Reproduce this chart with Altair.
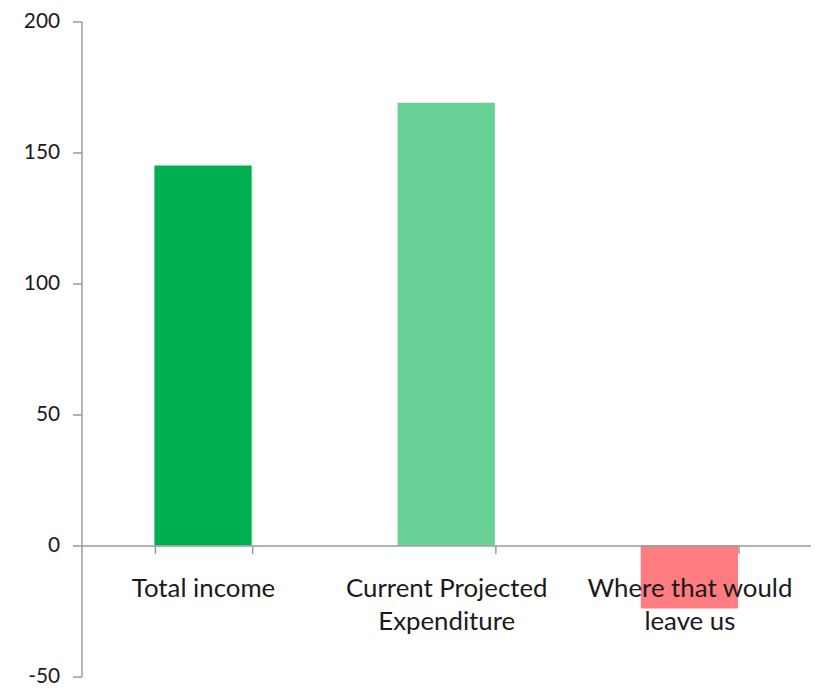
import altair as alt
import pandas as pd

categories = ["Total income", "Current Projected\nExpenditure", "Where that would\nleave us"]
values = [145, 169, -24]
colors = ["#00B050", "#66D095", "#FF7C80"]
y_ticks = [-50, 0, 50, 100, 150, 200]

df = pd.DataFrame({"category": categories, "value": values})

W, H = 735, 660
ymin, ymax = -50, 200
zero_offset = -H * (0 - ymin) / (ymax - ymin)

FONT = "Lato"
TXT = "#1a1a1a"
AX = "#9a9a9a"

chart = alt.Chart(df).mark_bar().encode(
    x=alt.X("category:N", sort=categories, title=None,
            scale=alt.Scale(paddingInner=0.6, paddingOuter=0.3),
            axis=alt.Axis(orient="bottom", offset=zero_offset, labelAngle=0,
                          labelExpr="split(datum.label, '\\n')", labelLimit=0,
                          tickBand="extent", tickSize=8, tickColor=AX, tickWidth=1.5,
                          domainColor=AX, domainWidth=1.5,
                          labelFont=FONT, labelFontSize=26, labelColor=TXT,
                          labelPadding=22, labelLineHeight=34, zindex=1)),
    y=alt.Y("value:Q", title=None,
            scale=alt.Scale(domain=[ymin, ymax], nice=False),
            axis=alt.Axis(values=y_ticks, grid=False, tickSize=9, tickColor=AX, tickWidth=1.5,
                          domainColor=AX, domainWidth=1.5, labelExpr="datum.value",
                          labelFont=FONT, labelFontSize=21, labelColor=TXT,
                          labelPadding=13)),
    color=alt.Color("category:N", sort=categories,
                    scale=alt.Scale(domain=categories, range=colors), legend=None),
).properties(
    width=W, height=H,
    autosize=alt.AutoSizeParams(type="none"),
    padding={"left": 74, "top": 11, "right": 0, "bottom": 7},
).configure_view(stroke=None)

chart.save("out.html", embed_options={"renderer": "svg", "actions": False})
